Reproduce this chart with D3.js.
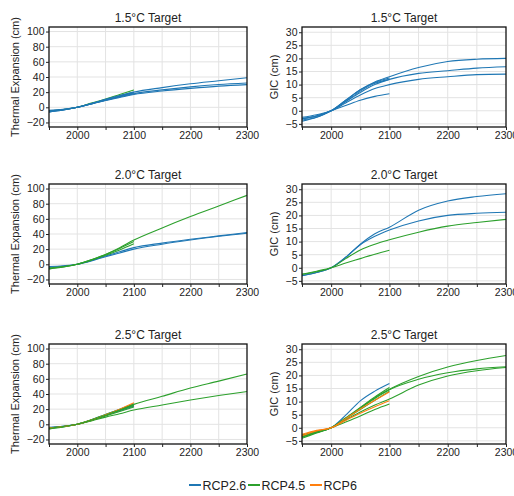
<!DOCTYPE html>
<html>
<head>
<meta charset="utf-8">
<script src="https://cdn.jsdelivr.net/npm/d3@7"></script>
<style>
  body { margin: 0; background: #fff; }
  text { font-family: "Liberation Sans", Arial, sans-serif; fill: #222; }
  .grid line { stroke: #e3e3e3; stroke-width: 1; }
  .axis path { display: none; }
  .axis line { stroke: #222; }
</style>
</head>
<body>
<script>
// sample years: short runs end at 2100, long runs continue to 2300
var yearsShort = [1950, 1975, 2000, 2025, 2050, 2075, 2100]
var yearsLong = [1950, 1975, 2000, 2025, 2050, 2075, 2100, 2150, 2200, 2250, 2300]

var scenarios = ['RCP2.6', 'RCP4.5', 'RCP6']
var colors = { 'RCP2.6': '#1f77b4', 'RCP4.5': '#2ca02c', 'RCP6': '#ff7f0e' }

var teTicks = [-20, 0, 20, 40, 60, 80, 100]
var gicTicks = [-5, 0, 5, 10, 15, 20, 25, 30]
var xTicks = [2000, 2100, 2200, 2300]

// thermal expansion, 1.5C
var te15 = [
  { s: 'RCP2.6', v: [-5, -3, 0, 5, 10, 15, 20, 26, 31, 35, 39] },
  { s: 'RCP2.6', v: [-6, -3.5, 0, 4.5, 9.5, 14, 18, 23, 27, 30, 32] },
  { s: 'RCP2.6', v: [-6, -3.5, 0, 4.5, 9, 13, 17, 21.5, 25, 28, 30] },
  { s: 'RCP4.5', v: [-5, -3, 0, 5.5, 11, 17, 23] },
  { s: 'RCP2.6', v: [-5, -3, 0, 5, 10.5, 15.5, 20] },
  { s: 'RCP2.6', v: [-6, -3.5, 0, 4.5, 9.5, 14, 18] },
  { s: 'RCP2.6', v: [-4, -2.5, 0, 5, 10, 14.5, 19] }
]

// GIC, 1.5C
var gic15 = [
  { s: 'RCP2.6', v: [-3, -2, 0, 4, 8, 11, 13, 16.5, 18.8, 19.7, 20] },
  { s: 'RCP2.6', v: [-3.5, -2.5, 0, 3.5, 7, 10, 12, 14.3, 15.3, 16.3, 16.8] },
  { s: 'RCP2.6', v: [-2.5, -1.5, 0, 3, 6, 8.5, 10, 12, 13, 13.8, 14] },
  { s: 'RCP2.6', v: [-3, -2, 0, 4, 8, 10.8, 12.5] },
  { s: 'RCP2.6', v: [-4, -2.5, 0, 3.5, 7.5, 10.5, 12] },
  { s: 'RCP2.6', v: [-3, -2, 0, 2, 4, 5.5, 6.5] }
]

// thermal expansion, 2.0C
var te20 = [
  { s: 'RCP2.6', v: [-3, -2, 0, 5, 11, 16.5, 22, 28, 33, 37.5, 42] },
  { s: 'RCP2.6', v: [-4, -2.5, 0, 4.5, 10, 15, 20, 26.5, 32, 37, 41] },
  { s: 'RCP4.5', v: [-6, -3.5, 0, 6, 13, 22, 32, 48, 63, 77, 91] },
  { s: 'RCP4.5', v: [-6, -3.5, 0, 5.5, 12, 19, 27] },
  { s: 'RCP4.5', v: [-5, -3, 0, 6, 13, 21, 30] }
]

// GIC, 2.0C
var gic20 = [
  { s: 'RCP2.6', v: [-3, -1.8, 0, 4, 9, 13, 15.5, 22, 25.5, 27.2, 28.3] },
  { s: 'RCP2.6', v: [-3, -1.8, 0, 4, 8.8, 12, 14.4, 17.9, 20, 20.8, 21.2] },
  { s: 'RCP4.5', v: [-2.5, -1.5, 0, 3.5, 6.8, 9, 10.7, 13.6, 15.9, 17.3, 18.5] },
  { s: 'RCP4.5', v: [-2.5, -1.3, 0, 1.8, 3.5, 5.2, 6.7] }
]

// thermal expansion, 2.5C
var te25 = [
  { s: 'RCP2.6', v: [-4, -2.5, 0, 6, 13, 20, 27] },
  { s: 'RCP2.6', v: [-4.5, -2.7, 0, 5.5, 12, 18, 24] },
  { s: 'RCP4.5', v: [-5, -3, 0, 6, 13, 19.5, 26.3, 37, 47.8, 57, 66.5] },
  { s: 'RCP4.5', v: [-6, -3.5, 0, 4.5, 9.5, 14, 18.8, 25.5, 32, 38, 43.3] },
  { s: 'RCP4.5', v: [-5, -3, 0, 5.5, 12, 18.5, 25] },
  { s: 'RCP4.5', v: [-6, -3.5, 0, 5, 11, 17, 23] },
  { s: 'RCP6', v: [-5, -3, 0, 5.5, 12.5, 20, 28.5] },
  { s: 'RCP4.5', v: [-5.5, -3, 0, 5.5, 12, 19, 26] }
]

// GIC, 2.5C
var gic25 = [
  { s: 'RCP2.6', v: [-3, -1.5, 0, 4.8, 10.3, 14, 16.9] },
  { s: 'RCP4.5', v: [-3, -1.5, 0, 3.5, 7.5, 11.5, 14.7, 19.6, 23.2, 25.7, 27.6] },
  { s: 'RCP4.5', v: [-3.5, -1.8, 0, 3.5, 7.5, 11.2, 14.5, 18.5, 21, 22.5, 23.3] },
  { s: 'RCP4.5', v: [-4, -2, 0, 3, 6, 8.7, 11, 16.3, 19.8, 21.8, 23] },
  { s: 'RCP4.5', v: [-3, -1.5, 0, 3.8, 7.8, 11.8, 15.4] },
  { s: 'RCP4.5', v: [-3.5, -1.8, 0, 3.5, 7, 10.5, 14] },
  { s: 'RCP4.5', v: [-2.8, -1.4, 0, 2.2, 4.5, 7, 9.1] },
  { s: 'RCP6', v: [-3, -1.2, 0, 3.5, 7.2, 10.5, 13.7] },
  { s: 'RCP6', v: [-2.5, -1, 0, 2.8, 5.5, 8, 10.3] }
]

var titles = ['1.5°C Target', '2.0°C Target', '2.5°C Target']
var rowTops = [27, 184, 344]
var plotH = 100
var colLeft = [49, 302]
var colW = [198, 204]

var svg = d3.select('body').append('svg')
  .attr('width', 514)
  .attr('height', 496)

var panels = [
  { data: te15, row: 0, col: 0 }, { data: gic15, row: 0, col: 1 },
  { data: te20, row: 1, col: 0 }, { data: gic20, row: 1, col: 1 },
  { data: te25, row: 2, col: 0 }, { data: gic25, row: 2, col: 1 }
]

panels.forEach(function(p) {
  var isTE = p.col == 0
  var plotW = colW[p.col]
  var x = d3.scaleLinear().domain([1950, 2300]).range([0, plotW])
  var y = isTE
    ? d3.scaleLinear().domain([-26, 106]).range([plotH, 0])
    : d3.scaleLinear().domain([-6.2, 32]).range([plotH, 0])
  var yTicks = isTE ? teTicks : gicTicks

  var g = svg.append('g')
    .attr('transform', 'translate(' + colLeft[p.col] + ',' + rowTops[p.row] + ')')

  // grid
  var grid = g.append('g').attr('class', 'grid')
  grid.selectAll('.vx')
    .data(d3.range(2000, 2300, 50))
    .enter().append('line')
      .attr('x1', x).attr('x2', x)
      .attr('y1', 0).attr('y2', plotH)
  grid.selectAll('.hy')
    .data(yTicks)
    .enter().append('line')
      .attr('x1', 0).attr('x2', plotW)
      .attr('y1', y).attr('y2', y)

  // lines
  var line = d3.line()
    .x(function(d) { return x(d[0]) })
    .y(function(d) { return y(d[1]) })
    .curve(d3.curveMonotoneX)

  g.selectAll('.run')
    .data(p.data)
    .enter().append('path')
      .attr('fill', 'none')
      .attr('stroke', function(d) { return colors[d.s] })
      .attr('stroke-width', 1.1)
      .attr('d', function(d) {
        var yrs = d.v.length == yearsLong.length ? yearsLong : yearsShort
        return line(d.v.map(function(v, i) { return [yrs[i], v] }))
      })

  // frame
  g.append('rect')
    .attr('width', plotW).attr('height', plotH)
    .attr('fill', 'none')
    .attr('stroke', '#111')
    .attr('stroke-width', 1.3)

  // axes
  g.append('g')
    .attr('class', 'axis')
    .attr('transform', 'translate(0,' + plotH + ')')
    .call(d3.axisBottom(x).tickValues(d3.range(1950, 2301, 50)).tickSize(3).tickPadding(2)
      .tickFormat(function(d) { return xTicks.indexOf(d) >= 0 ? d : '' }))
    .selectAll('text')
      .style('font-size', '10.5px')
      .attr('fill', '#222')

  g.append('g')
    .attr('class', 'axis')
    .call(d3.axisLeft(y).tickValues(yTicks).tickSize(3).tickPadding(1.5)
      .tickFormat(function(d) { return d < 0 ? '\u2212' + (-d) : d }))
    .selectAll('text')
      .style('font-size', '10.5px')
      .attr('fill', '#222')

  // y label
  g.append('text')
    .attr('transform', 'translate(' + (isTE ? -30 : -24) + ',' + plotH / 2 + ')rotate(-90)')
    .attr('text-anchor', 'middle')
    .style('font-size', '11px')
    .text(isTE ? 'Thermal Expansion (cm)' : 'GIC (cm)')

  // title
  g.append('text')
    .attr('x', plotW / 2)
    .attr('y', -5)
    .attr('text-anchor', 'middle')
    .style('font-size', '12px')
    .text(titles[p.row])
})

// legend
var legend = svg.append('g').attr('transform', 'translate(189,485)')
var legX = [0, 59, 121]
scenarios.forEach(function(s, i) {
  var lg = legend.append('g').attr('transform', 'translate(' + legX[i] + ',0)')
  lg.append('line')
    .attr('x1', 0).attr('x2', 12)
    .attr('y1', 0).attr('y2', 0)
    .attr('stroke', colors[s])
    .attr('stroke-width', 2)
  lg.append('text')
    .attr('x', 13.5)
    .attr('y', 4.5)
    .style('font-size', '12.5px')
    .text(s)
})
</script>
</body>
</html>
